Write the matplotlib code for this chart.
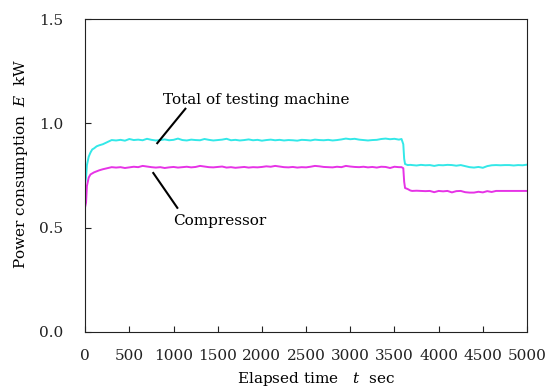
import matplotlib
matplotlib.use("Agg")
import matplotlib.pyplot as plt

plt.rcParams['font.family'] = ['DejaVu Serif']
plt.rcParams['mathtext.fontset'] = 'dejavuserif'

# time axis (sec)
t_start = [0, 10, 20, 40, 60, 80, 100, 130, 160, 200, 250, 300]
t_plateau = list(range(350, 3551, 50))
t_drop = [3580, 3600, 3610, 3620, 3650, 3680]
t_after = list(range(3700, 5001, 50))

# Total of testing machine (kW)
total_start = [0.715, 0.74, 0.80, 0.84, 0.86, 0.875, 0.88, 0.89, 0.895, 0.90, 0.91, 0.92]
total_plateau = [
    0.918, 0.921, 0.917, 0.925, 0.920, 0.922, 0.919, 0.926, 0.921, 0.918,
    0.920, 0.923, 0.919, 0.921, 0.927, 0.920, 0.918, 0.922, 0.920, 0.919,
    0.925, 0.921, 0.918, 0.920, 0.922, 0.926, 0.919, 0.921, 0.918, 0.920,
    0.923, 0.919, 0.921, 0.917, 0.920, 0.922, 0.919, 0.921, 0.918, 0.920,
    0.919, 0.917, 0.921, 0.920, 0.918, 0.922, 0.920, 0.919, 0.921, 0.918,
    0.920, 0.923, 0.927, 0.924, 0.926, 0.922, 0.920, 0.918, 0.920, 0.921,
    0.925, 0.927, 0.924, 0.926, 0.922,
]
total_drop = [0.925, 0.90, 0.83, 0.805, 0.800, 0.801]
total_after = [
    0.800, 0.798, 0.801, 0.799, 0.800, 0.796, 0.800, 0.799, 0.801, 0.800,
    0.797, 0.800, 0.795, 0.790, 0.788, 0.791, 0.787, 0.795, 0.799, 0.800,
    0.799, 0.800, 0.800, 0.798, 0.800, 0.799, 0.802,
]

# Compressor (kW)
comp_start = [0.60, 0.62, 0.70, 0.74, 0.755, 0.76, 0.765, 0.77, 0.775, 0.78, 0.785, 0.79]
comp_plateau = [
    0.788, 0.790, 0.786, 0.789, 0.792, 0.790, 0.796, 0.793, 0.790, 0.788,
    0.790, 0.786, 0.789, 0.791, 0.788, 0.790, 0.792, 0.789, 0.791, 0.796,
    0.793, 0.790, 0.789, 0.791, 0.793, 0.788, 0.790, 0.787, 0.789, 0.791,
    0.788, 0.790, 0.789, 0.791, 0.794, 0.792, 0.796, 0.793, 0.790, 0.789,
    0.791, 0.788, 0.790, 0.789, 0.792, 0.796, 0.794, 0.791, 0.790, 0.789,
    0.792, 0.790, 0.796, 0.793, 0.791, 0.790, 0.792, 0.789, 0.791, 0.788,
    0.792, 0.791, 0.786, 0.792, 0.790,
]
comp_drop = [0.79, 0.785, 0.72, 0.69, 0.685, 0.678]
comp_after = [
    0.676, 0.677, 0.676, 0.675, 0.676, 0.670, 0.676, 0.674, 0.676, 0.669,
    0.675, 0.676, 0.670, 0.668, 0.668, 0.672, 0.669, 0.675, 0.671, 0.676,
    0.676, 0.676, 0.676, 0.676, 0.676, 0.676, 0.676,
]

t = t_start + t_plateau + t_drop + t_after
total = total_start + total_plateau + total_drop + total_after
comp = comp_start + comp_plateau + comp_drop + comp_after

fig = plt.figure(figsize=(5.53, 3.9), dpi=100)
ax = fig.add_axes([0.154, 0.149, 0.799, 0.802])

ax.plot(t, total, color='#33e8e8', lw=1.4)
ax.plot(t, comp, color='#e633e6', lw=1.4)

ax.set_xlim(0, 5000)
ax.set_ylim(0, 1.5)
ax.set_xticks(range(0, 5001, 500))
ax.set_yticks([0.0, 0.5, 1.0, 1.5])
ax.set_yticklabels(['0.0', '0.5', '1.0', '1.5'])
ax.tick_params(direction='in', length=4, colors='#222222', labelsize=11)
ax.tick_params(axis='x', pad=12)
ax.tick_params(axis='y', pad=16)
for s in ax.spines.values():
    s.set_color('#222222')

ax.set_xlabel(r'Elapsed time   $t$  sec', fontsize=11)
ax.xaxis.set_label_coords(0.523, -0.122)
ax.set_ylabel(r'Power consumption  $E$  kW', fontsize=11)
ax.yaxis.set_label_coords(-0.124, 0.537)

# annotations with leader lines
ax.text(880, 1.11, 'Total of testing machine', fontsize=11, va='center', ha='left')
ax.plot([1134, 816], [1.07, 0.905], color='black', lw=1.5)
ax.text(990, 0.53, 'Compressor', fontsize=11, va='center', ha='left')
ax.plot([771, 1043], [0.762, 0.595], color='black', lw=1.5)

fig.savefig('out.png', dpi=100)
